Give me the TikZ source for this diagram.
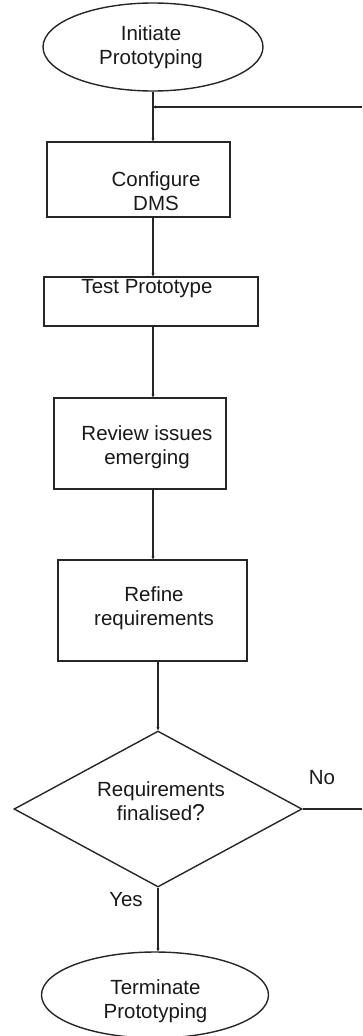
\documentclass[tikz,border=0pt]{standalone}
\usepackage{fontspec}
\setmainfont{Liberation Sans}
\usetikzlibrary{shapes.geometric}
\usetikzlibrary{positioning}
\usetikzlibrary{arrows.meta}

\tikzset{
  termbox/.style={ellipse,draw=black!85,line width=1.4pt,inner sep=0pt},
  stepbox/.style={rectangle,draw=black!85,line width=1.4pt,inner sep=0pt},
  decbox/.style={diamond,draw=black!85,line width=1.4pt,inner sep=0pt},
  txt/.style={align=center,inner sep=0pt,text=black!90,font=\fontsize{20.5}{24}\selectfont},
  line/.style={draw=black!85,line width=1.6pt},
  flow/.style={line,-{Stealth[length=3pt,width=3pt]}},
}

\begin{document}
\begin{tikzpicture}[x=1pt,y=-1pt]
\useasboundingbox (0,0) rectangle (362,1036);
% shapes
\node (init) at (153,47) [termbox,minimum width=220pt,minimum height=88pt]{};
\node (cfg) at (138.5,179.5) [stepbox,minimum width=183pt,minimum height=75pt]{};
\node (test) at (151,301.5) [stepbox,minimum width=214pt,minimum height=49pt]{};
\node (review) at (140,443.5) [stepbox,minimum width=172pt,minimum height=91pt]{};
\node (refine) at (152.5,610.5) [stepbox,minimum width=189pt,minimum height=101pt]{};
\node (dec) at (158,809) [decbox,minimum width=288pt,minimum height=156pt]{};
\node (term) at (155,995) [termbox,minimum width=227pt,minimum height=86pt]{};
% texts
\node (inittxt) at (151,47) [txt]{Initiate\\Prototyping};
\node (cfgtxt) at (156,191) [txt]{Configure\\DMS};
\node (testtxt) at (147,289) [txt]{Test Prototype};
\node (reviewtxt) at (147,447) [txt]{Review issues\\emerging};
\node (refinetxt) at (154,608) [txt]{Refine\\requirements};
\node (dectxt) at (161,801) [txt]{Requirements\\finalised{\fontsize{23}{24}\selectfont ?}};
\node (termtxt) at (155.5,1001) [txt]{Terminate\\Prototyping};
\node (no) at (322,778) [txt]{No};
\node (yes) at (126,900) [txt]{Yes};
% connectors
\coordinate (noend) at (362,809);
\coordinate (fbend) at (362,107);
\draw[flow] (init.south) -- (init.south |- cfg.north);
\draw[flow] (cfg.south -| init.south) -- (test.north -| init.south);
\draw[flow] (test.south -| init.south) -- (review.north -| init.south);
\draw[flow] (review.south -| init.south) -- (refine.north -| init.south);
\draw[flow] (refine.south -| dec.north) -- (dec.north);
\draw[flow] (dec.south) -- (dec.south |- term.north);
\draw[line] (dec.east) -- (noend);
\draw[flow] (fbend) -- (fbend -| init.south);
\end{tikzpicture}
\end{document}
